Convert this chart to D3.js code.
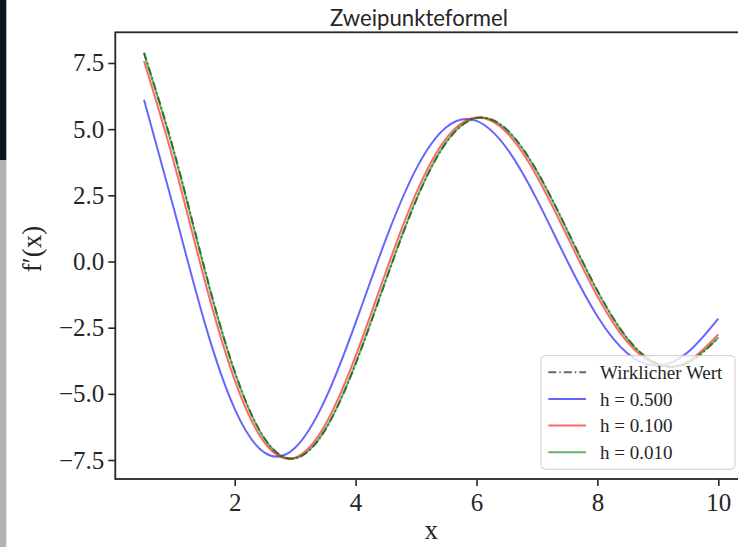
<!DOCTYPE html>
<html>
<head>
<meta charset="utf-8">
<script src="https://cdn.jsdelivr.net/npm/d3@7/dist/d3.min.js"></script>
<style>
  html, body { margin: 0; padding: 0; background: #fff; }
  svg { display: block; }
</style>
</head>
<body>
<svg id="chart" width="738" height="547"></svg>
<script>
// ---- data ----
const xValues = [0.5, 1.0, 1.5, 2.0, 2.5, 3.0, 3.5, 4.0, 4.5, 5.0,
                 5.5, 6.0, 6.5, 7.0, 7.5, 8.0, 8.5, 9.0, 9.5, 10.0];
const trueValues = [7.892, 4.128, -0.250, -4.152, -6.705, -7.439, -6.352, -3.874, -0.721, 2.302,
                    4.496, 5.423, 4.986, 3.418, 1.194, -1.098, -2.914, -3.872, -3.827, -2.887];
const h500 = [6.107, 1.943, -2.282, -5.568, -7.231, -7.035, -5.202, -2.320, 0.834, 3.491,
              5.074, 5.313, 4.279, 2.337, 0.029, -2.065, -3.475, -3.932, -3.421, -2.154];
const h100 = [7.573, 3.697, -0.681, -4.481, -6.865, -7.408, -6.156, -3.575, -0.398, 2.570,
              4.651, 5.439, 4.873, 3.214, 0.957, -1.310, -3.054, -3.913, -3.770, -2.753];
const h010 = [7.861, 4.085, -0.293, -4.185, -6.722, -7.436, -6.333, -3.845, -0.689, 2.329,
              4.512, 5.425, 4.975, 3.398, 1.171, -1.120, -2.929, -3.877, -3.822, -2.874];
const seriesNames = ["Wirklicher Wert", "h = 0.500", "h = 0.100", "h = 0.010"];
const xTicks = [2, 4, 6, 8, 10];
const yTicks = [-7.5, -5.0, -2.5, 0.0, 2.5, 5.0, 7.5];
const titleText = "Zweipunkteformel";
const xLabel = "x";
const yLabel = "f\u2032(x)";

// ---- layout ----
const svg = d3.select("#chart");
const L = 115.3, T = 32.3, B = 479, R = 747;

// screenshot edge strip
svg.append("rect").attr("x", 0).attr("y", 0).attr("width", 6.3).attr("height", 160).attr("fill", "#0b1322");
svg.append("rect").attr("x", 0).attr("y", 160).attr("width", 6.3).attr("height", 387).attr("fill", "#b3b3b3");

const xExt = d3.extent(xValues);
const xPad = (xExt[1] - xExt[0]) * 0.05;
const x = d3.scaleLinear().domain([xExt[0] - xPad, xExt[1] + xPad]).range([L, R]);

const allY = trueValues.concat(h500, h100, h010);
const yExt = [-7.45, d3.max(allY)];
const yPad = (yExt[1] - yExt[0]) * 0.05;
const y = d3.scaleLinear().domain([yExt[0] - yPad, yExt[1] + yPad]).range([B, T]);

const serif = "'Liberation Serif', 'DejaVu Serif', serif";
const ink = "#262626";

// lines
const series = [
  { name: seriesNames[0], vals: trueValues, color: "#000000", op: 0.6, dash: "8,3,1.5,3" },
  { name: seriesNames[1], vals: h500, color: "#0000ff", op: 0.6, dash: null },
  { name: seriesNames[2], vals: h100, color: "#ff0000", op: 0.6, dash: null },
  { name: seriesNames[3], vals: h010, color: "#008000", op: 0.6, dash: null }
];

const line = d3.line().x((d, i) => x(xValues[i])).y(d => y(d)).curve(d3.curveNatural);

const plot = svg.append("g");
series.forEach(s => {
  plot.append("path")
    .attr("d", line(s.vals))
    .attr("fill", "none")
    .attr("stroke", s.color)
    .attr("stroke-opacity", s.op)
    .attr("stroke-width", 2)
    .attr("stroke-dasharray", s.dash);
});

// axes
const xAxis = d3.axisBottom(x).tickValues(xTicks).tickSize(7).tickPadding(6).tickFormat(d3.format("d"));
const yAxis = d3.axisLeft(y).tickValues(yTicks).tickSize(7).tickPadding(4).tickFormat(d3.format(".1f"));

const gx = svg.append("g").attr("transform", `translate(0,${B})`).call(xAxis);
const gy = svg.append("g").attr("transform", `translate(${L},0)`).call(yAxis);
[gx, gy].forEach(g => {
  g.select(".domain").remove();
  g.selectAll(".tick line").attr("stroke", ink).attr("stroke-width", 1.6);
  g.selectAll(".tick text").attr("fill", ink).style("font-family", serif).style("font-size", "25px");
});
gx.selectAll(".tick text").attr("dy", "0.75em");

// frame
svg.append("rect")
  .attr("x", L).attr("y", T).attr("width", R - L).attr("height", B - T)
  .attr("fill", "none").attr("stroke", ink).attr("stroke-width", 1.8);

// title
svg.append("text")
  .attr("x", 419).attr("y", 26)
  .attr("text-anchor", "middle")
  .attr("textLength", 178).attr("lengthAdjust", "spacingAndGlyphs")
  .style("font-family", "Lato, 'DejaVu Sans', sans-serif")
  .style("font-size", "24px")
  .attr("fill", ink)
  .text(titleText);

// axis labels
svg.append("text")
  .attr("x", (L + R) / 2).attr("y", 539)
  .attr("text-anchor", "middle")
  .style("font-family", serif).style("font-size", "27px")
  .attr("fill", ink).text(xLabel);

svg.append("text")
  .attr("transform", "translate(41,249) rotate(-90)")
  .attr("text-anchor", "middle")
  .style("font-family", serif).style("font-size", "27px")
  .attr("fill", ink).text(yLabel);

// legend
const lg = svg.append("g");
lg.append("rect")
  .attr("x", 541).attr("y", 355.7).attr("width", 194).attr("height", 113.6)
  .attr("rx", 4).attr("ry", 4)
  .attr("fill", "#ffffff").attr("fill-opacity", 0.8)
  .attr("stroke", "#cccccc").attr("stroke-width", 1);

const rowY = [372.3, 399, 425.6, 452.3];
series.forEach((s, i) => {
  lg.append("line")
    .attr("x1", 548.3).attr("x2", 586)
    .attr("y1", rowY[i]).attr("y2", rowY[i])
    .attr("stroke", s.color).attr("stroke-opacity", s.op)
    .attr("stroke-width", 2)
    .attr("stroke-dasharray", s.dash);
  lg.append("text")
    .attr("x", 600).attr("y", rowY[i]).attr("dy", "0.35em")
    .style("font-family", serif).style("font-size", "19px")
    .attr("fill", ink).text(s.name);
});
</script>
</body>
</html>
